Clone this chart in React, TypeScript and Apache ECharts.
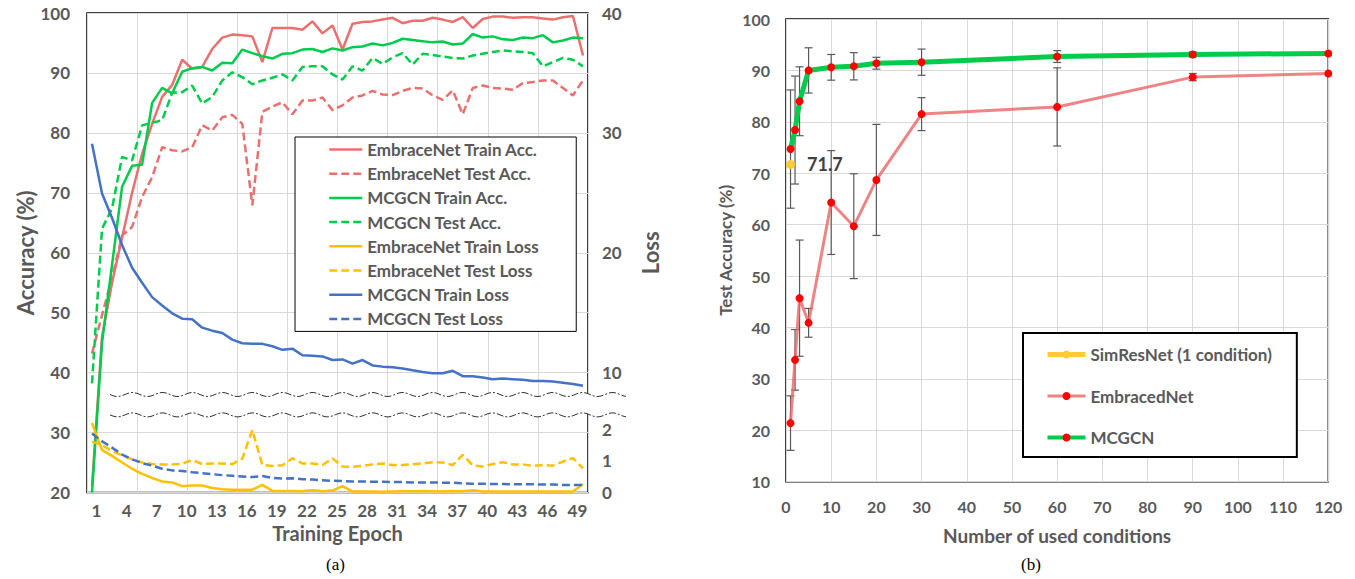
import React, { useEffect, useRef } from "react";
import * as echarts from "echarts";

// ---------- (a) Training curves ----------
const epochs = ["1","2","3","4","5","6","7","8","9","10","11","12","13","14","15","16","17","18","19","20","21","22","23","24","25","26","27","28","29","30","31","32","33","34","35","36","37","38","39","40","41","42","43","44","45","46","47","48","49","50"];

const embTrainAcc = [21, 46, 55, 62.5, 70, 76.5, 81.5, 86, 88, 92.2, 90.7, 91.0, 94.0, 95.9, 96.4, 96.3, 96.1, 91.8, 97.5, 97.5, 97.5, 97.2, 98.6, 96.6, 97.9, 93.9, 98.2, 98.5, 98.6, 98.9, 99.2, 98.3, 98.7, 98.7, 99.2, 98.9, 98.5, 99.3, 97.5, 99.0, 99.4, 99.4, 99.2, 99.3, 99.3, 99.1, 98.9, 99.3, 99.5, 92.9];
const embTestAcc = [43.2, 49.6, 55.8, 62.9, 64.3, 69.3, 72.6, 77.6, 77.1, 76.9, 77.6, 81.25, 80.4, 82.6, 83.0, 81.5, 67.9, 83.5, 84.4, 85.1, 83.1, 85.4, 85.4, 85.9, 83.8, 84.6, 85.9, 86.25, 87.0, 86.4, 86.3, 87.0, 87.5, 87.4, 86.25, 85.5, 87.1, 83.1, 87.5, 87.9, 87.5, 87.4, 87.2, 88.3, 88.5, 88.75, 88.75, 87.5, 86.25, 88.75];
const mcgTrainAcc = [20, 45, 58, 71, 74.5, 74.7, 85, 87.5, 86.6, 90.2, 90.8, 91.0, 90.4, 91.7, 91.6, 93.9, 93.3, 92.8, 92.4, 93.2, 93.3, 93.9, 94.0, 93.5, 94.1, 93.75, 94.3, 94.4, 94.9, 94.6, 95.0, 95.7, 95.5, 95.3, 95.1, 95.25, 94.75, 94.9, 96.5, 95.9, 96.1, 95.6, 95.5, 95.9, 95.8, 96.3, 95.1, 95.4, 95.9, 95.8];
const mcgTestAcc = [38.2, 64.0, 67.4, 76.0, 75.4, 81.25, 81.7, 82.1, 86.7, 86.8, 87.9, 84.9, 86.0, 88.75, 90.1, 89.3, 88.1, 88.75, 89.2, 89.75, 88.75, 91.0, 91.1, 91.1, 89.75, 88.9, 91.1, 90.4, 92.5, 91.5, 92.6, 93.3, 91.4, 93.2, 93.0, 92.75, 92.5, 92.4, 92.9, 93.2, 93.5, 93.75, 93.6, 93.5, 93.3, 91.1, 91.8, 92.5, 92.2, 91.1];
const embTrainLoss = [2.2, 1.34, 1.16, 0.95, 0.75, 0.59, 0.46, 0.35, 0.32, 0.2, 0.22, 0.22, 0.14, 0.1, 0.09, 0.09, 0.09, 0.24, 0.05, 0.05, 0.05, 0.04, 0.07, 0.04, 0.06, 0.2, 0.03, 0.03, 0.03, 0.02, 0.03, 0.04, 0.04, 0.05, 0.04, 0.03, 0.05, 0.04, 0.07, 0.03, 0.03, 0.03, 0.03, 0.03, 0.03, 0.03, 0.03, 0.03, 0.03, 0.27];
const embTestLoss = [1.61, 1.5, 1.31, 1.18, 1.05, 0.95, 0.9, 0.89, 0.89, 0.91, 1.03, 0.9, 0.92, 0.92, 0.9, 1.07, 1.98, 0.87, 0.84, 0.86, 1.08, 0.92, 0.92, 0.87, 1.08, 0.82, 0.81, 0.84, 0.89, 0.92, 0.87, 0.87, 0.89, 0.92, 0.96, 0.95, 0.87, 1.19, 0.86, 0.82, 0.9, 0.96, 0.89, 0.89, 0.84, 0.87, 0.85, 0.98, 1.09, 0.76];
const mcgTrainLoss = [29.1, 24.95, 22.9, 20.65, 18.75, 17.5, 16.3, 15.6, 14.95, 14.5, 14.45, 13.75, 13.5, 13.3, 12.75, 12.45, 12.4, 12.4, 12.2, 11.9, 12.0, 11.45, 11.4, 11.35, 11.05, 11.1, 10.75, 11.05, 10.6, 10.5, 10.45, 10.35, 10.2, 10.05, 9.95, 9.95, 10.15, 9.7, 9.7, 9.6, 9.45, 9.5, 9.45, 9.4, 9.3, 9.3, 9.25, 9.15, 9.05, 8.9];
const mcgTestLoss = [1.87, 1.62, 1.42, 1.2, 1.05, 0.93, 0.85, 0.75, 0.7, 0.68, 0.64, 0.61, 0.58, 0.55, 0.53, 0.51, 0.49, 0.52, 0.46, 0.44, 0.45, 0.42, 0.41, 0.39, 0.37, 0.36, 0.35, 0.35, 0.34, 0.34, 0.33, 0.33, 0.32, 0.32, 0.32, 0.31, 0.31, 0.29, 0.28, 0.28, 0.27, 0.27, 0.26, 0.26, 0.26, 0.25, 0.25, 0.24, 0.24, 0.24];

// ---------- (b) Test accuracy vs conditions ----------
const conditions = [1, 2, 3, 5, 10, 15, 20, 30, 60, 90, 120];
const embracedAcc = [21.4, 33.7, 45.7, 40.9, 64.3, 59.7, 68.7, 81.5, 82.9, 88.7, 89.4];
const embracedErr = [5.3, 5.9, 11.3, 2.8, 10.1, 10.2, 10.8, 3.2, 7.6, 0.7, 0];
const mcgcnAcc = [74.7, 78.4, 84.0, 90.0, 90.6, 90.8, 91.4, 91.6, 92.7, 93.1, 93.3];
const mcgcnErr = [11.5, 10.5, 6.7, 4.4, 2.5, 2.65, 1.15, 2.55, 1.15, 0.5, 0];
const simResCondition = 1;
const simResAcc = 71.7;

const FONT = "Lato, 'Open Sans', sans-serif";
const GREY = "#595959";
const RED = "#EC6F6F";
const GREEN = "#00CC4C";
const GOLD = "#FFC000";
const BLUE = "#4472C4";
const GRIDC = "#D9D9D9";
const SIMC = "#FFCC33";

const tick = (size: number, extra: any = {}) => ({
  fontFamily: FONT, fontWeight: "bold", fontSize: size, color: GREY, ...extra,
});

function errorBarRenderer(params: any, api: any) {
  const x = api.value(0);
  const y = api.value(1);
  const e = api.value(2);
  if (!e) return { type: "group", children: [] };
  const top = api.coord([x, y + e]);
  const bot = api.coord([x, y - e]);
  const hw = 4;
  const st = { stroke: "#595959", lineWidth: 1.2 };
  return {
    type: "group",
    children: [
      { type: "line", shape: { x1: top[0], y1: top[1], x2: bot[0], y2: bot[1] }, style: st },
      { type: "line", shape: { x1: top[0] - hw, y1: top[1], x2: top[0] + hw, y2: top[1] }, style: st },
      { type: "line", shape: { x1: bot[0] - hw, y1: bot[1], x2: bot[0] + hw, y2: bot[1] }, style: st },
    ],
  };
}

export default function App() {
  const ref = useRef<HTMLDivElement>(null);
  useEffect(() => {
    if (!ref.current) return;
    const chart = echarts.init(ref.current, undefined, { renderer: "svg" });
    const lineS = (name: string, data: number[], color: string, dashed: boolean, xi: number, yi: number) => ({
      name, type: "line", xAxisIndex: xi, yAxisIndex: yi, data, symbol: "none", z: 3,
      lineStyle: { color, width: 2.5, type: dashed ? [8, 4] : "solid" },
      itemStyle: { color },
    });
    const leftLegendItem = (name: string, dashed: boolean) => ({
      name,
      itemStyle: { color: "rgba(0,0,0,0)", borderWidth: 0, opacity: 0 },
      lineStyle: { width: 2.5, type: dashed ? [8, 4] : "solid", opacity: 1 },
    });
    const option: any = {
      animation: false,
      textStyle: { fontFamily: FONT },
      grid: [
        { left: 87, top: 13, width: 501, height: 479.5, show: true, borderColor: "#000", borderWidth: 1.5 },
        { left: 87, top: 492.5 - 94.8, width: 501, height: 94.8, show: false },
        { left: 786, top: 19, width: 542.3, height: 462.7, show: true, borderColor: "#000", borderWidth: 1.5 },
      ],
      xAxis: [
        {
          type: "category", gridIndex: 0, data: epochs, boundaryGap: true,
          axisLine: { show: false }, axisTick: { show: false },
          axisLabel: tick(17, { interval: 2, margin: 9, padding: [0, 0, 0, 9] }),
          splitLine: { show: true, interval: 4, lineStyle: { color: GRIDC, width: 1 } },
          name: "Training Epoch", nameLocation: "middle", nameGap: 30,
          nameTextStyle: tick(20),
        },
        { type: "category", gridIndex: 1, data: epochs, boundaryGap: true, show: false },
        {
          type: "value", gridIndex: 2, min: 0, max: 120, interval: 10,
          axisLine: { show: false }, axisTick: { show: false },
          axisLabel: tick(16, { margin: 17 }),
          splitLine: { show: true, lineStyle: { color: GRIDC, width: 1 } },
          name: "Number of used conditions", nameLocation: "middle", nameGap: 44,
          nameTextStyle: tick(19),
        },
      ],
      yAxis: [
        {
          type: "value", gridIndex: 0, min: 20, max: 100, interval: 10, position: "left",
          axisLine: { show: false }, axisTick: { show: false },
          axisLabel: tick(17, { margin: 17 }),
          splitLine: { show: true, lineStyle: { color: GRIDC, width: 1 } },
          name: "Accuracy (%)", nameLocation: "middle", nameRotate: 90, nameGap: 50,
          nameTextStyle: tick(22),
        },
        {
          type: "value", gridIndex: 0, min: 0, max: 40, interval: 10, position: "right",
          axisLine: { show: false }, axisTick: { show: false },
          axisLabel: tick(17, { margin: 14, formatter: (v: number) => (v === 0 ? "" : String(v)) }),
          splitLine: { show: false },
          name: "Loss", nameLocation: "middle", nameRotate: 90, nameGap: 51,
          nameTextStyle: tick(22),
        },
        {
          type: "value", gridIndex: 1, min: 0, max: 3, interval: 1, position: "right",
          axisLine: { show: false }, axisTick: { show: false },
          axisLabel: tick(17, { margin: 14, formatter: (v: number) => (v === 3 ? "" : String(v)) }),
          splitLine: { show: false },
        },
        {
          type: "value", gridIndex: 2, min: 10, max: 100, interval: 10,
          axisLine: { show: false }, axisTick: { show: false },
          axisLabel: tick(16, { margin: 16 }),
          splitLine: { show: true, lineStyle: { color: GRIDC, width: 1 } },
          name: "Test Accuracy (%)", nameLocation: "middle", nameRotate: 90, nameGap: 52,
          nameTextStyle: tick(17),
        },
      ],
      legend: [
        {
          data: [
            leftLegendItem("EmbraceNet Train Acc.", false),
            leftLegendItem("EmbraceNet Test Acc.", true),
            leftLegendItem("MCGCN Train Acc.", false),
            leftLegendItem("MCGCN Test Acc.", true),
            leftLegendItem("EmbraceNet Train Loss", false),
            leftLegendItem("EmbraceNet Test Loss", true),
            leftLegendItem("MCGCN Train Loss", false),
            leftLegendItem("MCGCN Test Loss", true),
          ],
          orient: "vertical", left: 295, top: 137,
          padding: [4, 37, 4, 33], itemWidth: 33, itemHeight: 14, itemGap: 7.2,
          borderColor: "#000", borderWidth: 1, backgroundColor: "#fff",
          textStyle: tick(17, { lineHeight: 14 }), selectedMode: false, z: 10,
        },
        {
          data: [
            { name: "SimResNet (1 condition)", lineStyle: { width: 5, color: SIMC }, itemStyle: { color: SIMC } },
            { name: "EmbracedNet", lineStyle: { width: 3 } },
            { name: "MCGCN", lineStyle: { width: 4 } },
          ],
          orient: "vertical", left: 1023, top: 333,
          padding: [13, 25, 11, 22], itemWidth: 38, itemHeight: 10, itemGap: 24.5,
          borderColor: "#000", borderWidth: 2, backgroundColor: "#fff",
          textStyle: tick(17, { lineHeight: 14 }), selectedMode: false, z: 10,
        },
      ],
      series: [
        lineS("EmbraceNet Train Acc.", embTrainAcc, RED, false, 0, 0),
        lineS("EmbraceNet Test Acc.", embTestAcc, RED, true, 0, 0),
        lineS("MCGCN Train Acc.", mcgTrainAcc, GREEN, false, 0, 0),
        lineS("MCGCN Test Acc.", mcgTestAcc, GREEN, true, 0, 0),
        lineS("EmbraceNet Train Loss", embTrainLoss, GOLD, false, 1, 2),
        lineS("EmbraceNet Test Loss", embTestLoss, GOLD, true, 1, 2),
        lineS("MCGCN Train Loss", mcgTrainLoss, BLUE, false, 0, 1),
        lineS("MCGCN Test Loss", mcgTestLoss, BLUE, true, 1, 2),
        {
          name: "EmbracedNet err", type: "custom", xAxisIndex: 2, yAxisIndex: 3, z: 2,
          renderItem: errorBarRenderer,
          data: conditions.map((c, i) => [c, embracedAcc[i], embracedErr[i]]),
        },
        {
          name: "MCGCN err", type: "custom", xAxisIndex: 2, yAxisIndex: 3, z: 2,
          renderItem: errorBarRenderer,
          data: conditions.map((c, i) => [c, mcgcnAcc[i], mcgcnErr[i]]),
        },
        {
          name: "SimResNet (1 condition)", type: "line", xAxisIndex: 2, yAxisIndex: 3, z: 4,
          data: [[simResCondition, simResAcc]], symbol: "circle", symbolSize: 9,
          itemStyle: { color: SIMC }, lineStyle: { color: SIMC, width: 5 },
          label: {
            show: true, position: "right", distance: 12,
            formatter: (p: any) => String(p.value[1]),
            fontFamily: FONT, fontWeight: "bold", fontSize: 18, color: "#404040",
          },
        },
        {
          name: "EmbracedNet", type: "line", xAxisIndex: 2, yAxisIndex: 3, z: 3,
          data: conditions.map((c, i) => [c, embracedAcc[i]]),
          symbol: "circle", symbolSize: 8,
          itemStyle: { color: "#FF0000" },
          lineStyle: { color: "rgba(236,100,100,0.8)", width: 3 },
        },
        {
          name: "MCGCN", type: "line", xAxisIndex: 2, yAxisIndex: 3, z: 3,
          data: conditions.map((c, i) => [c, mcgcnAcc[i]]),
          symbol: "circle", symbolSize: 8,
          itemStyle: { color: "#FF0000" },
          lineStyle: { color: GREEN, width: 5 },
        },
      ],
    };
    chart.setOption(option);

    // axis break band on (a)
    const yTop = chart.convertToPixel({ yAxisIndex: 0 }, 36.35) as number;
    const yBot = chart.convertToPixel({ yAxisIndex: 0 }, 32.95) as number;
    const x0 = 110, x1 = 627, period = 30, amp = 2;
    const top: number[][] = [];
    const bot: number[][] = [];
    for (let x = x0; x <= x1; x += 2) {
      const s = Math.sin(((x - x0) / period) * Math.PI * 2);
      top.push([x, yTop + amp * s]);
      bot.push([x, yBot + amp * s]);
    }
    const poly = top.concat(bot.slice().reverse());
    chart.setOption({
      graphic: [
        { type: "polygon", z: 5, shape: { points: poly }, style: { fill: "#fff" } },
        { type: "polyline", z: 6, shape: { points: top }, style: { stroke: "#333", lineWidth: 1, lineDash: [7, 2, 2, 2], fill: null } },
        { type: "polyline", z: 6, shape: { points: bot }, style: { stroke: "#333", lineWidth: 1, lineDash: [7, 2, 2, 2], fill: null } },
        { type: "text", left: 326, top: 556, style: { text: "(a)", fontFamily: "'Liberation Serif', serif", fontSize: 17, fill: "#000" } },
        { type: "text", left: 1021, top: 556, style: { text: "(b)", fontFamily: "'Liberation Serif', serif", fontSize: 17, fill: "#000" } },
      ],
    });
    return () => chart.dispose();
  }, []);
  return <div ref={ref} style={{ position: "absolute", left: 0, top: 0, width: 1355, height: 579, background: "#fff" }} />;
}
